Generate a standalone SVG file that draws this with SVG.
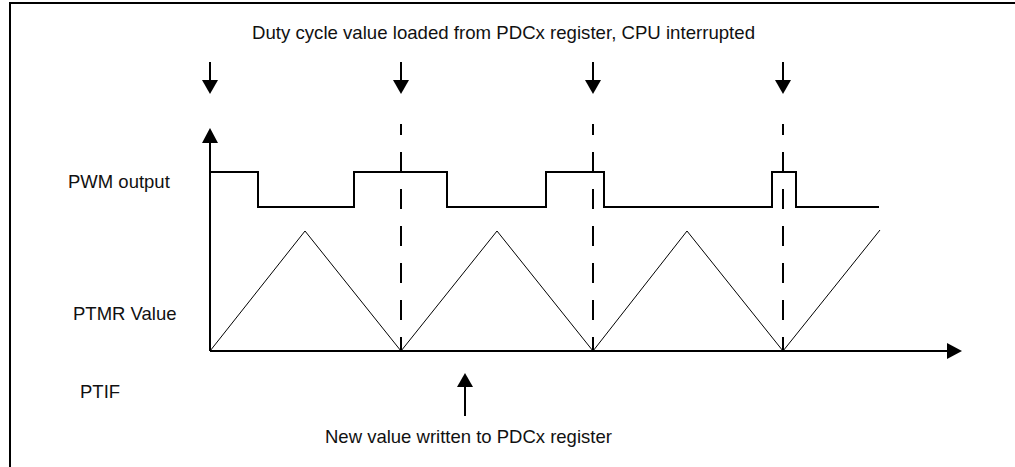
<svg xmlns="http://www.w3.org/2000/svg" width="1015" height="467" viewBox="0 0 1015 467">
<style>
text{font-family:"Liberation Sans",Arial,sans-serif;font-size:18.5px;fill:#111}
.thick{fill:none;stroke:#000;stroke-width:2}
.thin{fill:none;stroke:#000;stroke-width:1}
.dash{fill:none;stroke:#000;stroke-width:2;stroke-dasharray:20 17;stroke-dashoffset:9}
.head{fill:#000}
</style>
<rect x="10" y="3" width="1020" height="480" fill="#fff" stroke="#000" stroke-width="2"/>
<g id="labels">
<text id="title" x="252" y="39" textLength="503" lengthAdjust="spacingAndGlyphs">Duty cycle value loaded from PDCx register, CPU interrupted</text>
<text id="pwm-label" x="68" y="188">PWM output</text>
<text id="ptmr-label" x="73" y="320">PTMR Value</text>
<text id="ptif-label" x="80" y="398">PTIF</text>
<text id="new-value" x="325" y="443">New value written to PDCx register</text>
</g>
<g id="connectors">
<line class="thick" x1="210" y1="351" x2="210" y2="140"/>
<polygon class="head" points="210,128 202,143 218,143"/>
<line class="thick" x1="210" y1="351" x2="950" y2="351"/>
<polygon class="head" points="962,351 947,343 947,359"/>
<line class="thick" x1="210" y1="62" x2="210" y2="82"/>
<polygon class="head" points="210,94 202,80 218,80"/>
<line class="thick" x1="401" y1="62" x2="401" y2="82"/>
<polygon class="head" points="401,94 393,80 409,80"/>
<line class="thick" x1="593" y1="62" x2="593" y2="82"/>
<polygon class="head" points="593,94 585,80 601,80"/>
<line class="thick" x1="783" y1="62" x2="783" y2="82"/>
<polygon class="head" points="783,94 775,80 791,80"/>
<line class="dash" x1="401" y1="124" x2="401" y2="351"/>
<line class="dash" x1="593" y1="124" x2="593" y2="351"/>
<line class="dash" x1="783" y1="124" x2="783" y2="351"/>
<polyline class="thick" points="210,172 258,172 258,207 354,207 354,172 447,172 447,207 546,207 546,172 604,172 604,207 772,207 772,172 796,172 796,207 879,207"/>
<polyline class="thin" points="210,351 305,231 401,351 497,231 593,351 687,231 783,351 880,230"/>
<line class="thick" x1="465" y1="416" x2="465" y2="384"/>
<polygon class="head" points="465,373 457,387 473,387"/>
</g>
</svg>
